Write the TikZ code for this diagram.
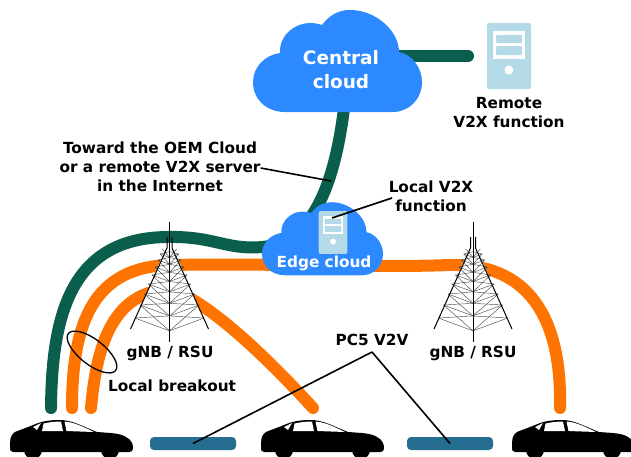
\documentclass[tikz,border=0pt]{standalone}
\usepackage{fontspec}
\setmainfont{DejaVu Sans}
\usetikzlibrary{positioning,shapes.geometric}
\definecolor{linkgreen}{HTML}{0A5F4C}
\definecolor{linkorange}{HTML}{FF7300}
\definecolor{cloudblue}{HTML}{2D89FF}
\definecolor{serverblue}{HTML}{B3DAE6}
\definecolor{barblue}{HTML}{266E91}
\tikzset{
	label/.style={font=\bfseries\fontsize{15.3}{19}\selectfont,align=center,inner sep=0pt},
	cloudlabel/.style={label,text=white},
	greenlink/.style={draw=linkgreen,line width=12pt,line cap=round},
	orangelink/.style={draw=linkorange,line width=12pt,line cap=round},
	leader/.style={draw=black,line width=1.6pt},
	pc5bar/.style={fill=barblue,rounded corners=4pt,minimum width=86pt,minimum height=13pt,inner sep=0pt},
	cloudshape/.pic={
		\fill[cloudblue] (-56,59) .. controls (-75,59) and (-88,46) .. (-88,29)
			.. controls (-88,14) and (-76,2) .. (-61,0)
			.. controls (-62,-18) and (-46,-30) .. (-31,-30)
			.. controls (-26,-30) and (-22,-29) .. (-19,-28)
			.. controls (-10,-40) and (0,-43) .. (9,-43)
			.. controls (35,-43) and (58,-22) .. (58,-1)
			.. controls (70,1) and (81,14) .. (81,29)
			.. controls (81,46) and (68,59) .. (52,59) -- cycle;
	},
	serverbox/.pic={
		\fill[serverblue,rounded corners=2pt] (-22,-33) rectangle (22,33);
		\fill[white] (-16,-25) rectangle (16,3);
		\fill[serverblue,rounded corners=1pt] (-13,-21) rectangle (13,-13);
		\fill[serverblue,rounded corners=1pt] (-13,-10) rectangle (13,-1);
		\fill[white] (0,14) circle (4.5);
	},
	carshape/.pic={
		\fill[black] (3,32) .. controls (0,32) and (0,30) .. (0,27)
			.. controls (0,20) and (0,15) .. (5,12)
			.. controls (12,9) and (16,8) .. (23,5)
			.. controls (32,1) and (40,0) .. (50,0)
			.. controls (62,0) and (72,6) .. (87,12)
			.. controls (100,13) and (110,13) .. (116,17)
			.. controls (122,20) and (123,25) .. (123,28)
			.. controls (123,31) and (122,32) .. (119,32) -- cycle;
		\fill[black] (23,30) circle (9);
		\fill[black] (100,30) circle (9);
		\fill[white] (23,7) -- (31,3) -- (27,10) -- cycle;
		\fill[white] (32,11) -- (33.5,3.5) .. controls (40,2) and (46,1.5) .. (51,1.5) -- (53,11) -- cycle;
		\fill[white] (54.5,1.5) .. controls (62,2) and (70,5) .. (84,12) -- (56.5,11) -- cycle;
	},
	towermast/.pic={
		\fill[white] (-4,26) -- (4,26) -- (34,98) -- (0,110) -- (-34,98) -- cycle;
		\foreach \ya/\yb in {27/32,32/38,38/45,45/53,53/62,62/72,72/83,83/96} {
				\pgfmathsetmacro{\wa}{2.5+0.397*(\ya-15)}
				\pgfmathsetmacro{\wb}{2.5+0.397*(\yb-15)}
				\pgfmathsetmacro{\da}{\ya+0.37*\wa}
				\pgfmathsetmacro{\db}{\yb+0.37*\wb}
				\draw[line width=0.45pt,black!70] (-\wb,\yb) -- (0,\db) -- (\wb,\yb);
				\draw[line width=0.45pt,black!70] (-\wa,\ya) -- (0,\db) -- (\wa,\ya);
				\draw[line width=0.45pt,black!70] (-\wb,\yb) -- (0,\da) -- (\wb,\yb);
			}
		\draw[line width=1pt] (-2.5,15) -- (-2.5,26) -- (-39,107);
		\draw[line width=1pt] (2.5,15) -- (2.5,26) -- (39,107);
		\draw[line width=1pt] (0,0) -- (0,120);
	},
}
\begin{document}
\begin{tikzpicture}[x=1pt,y=-1pt]
	\useasboundingbox (0,0) rectangle (631,456);
	\clip (0,0) rectangle (631,456);

	\coordinate (car1green) at (51,408);
	\coordinate (car1orange) at (72,408);
	\coordinate (car1local) at (91,408);
	\coordinate (car2local) at (313,408);
	\coordinate (car3orange) at (560,408);
	\coordinate (remoteend) at (468,56);
	\coordinate (centralexit) at (345,100);
	\coordinate (centralright) at (390,56);

	% links
	\draw[orangelink] (car1orange) .. controls (72,320) and (95,267) .. (170,265)
		.. controls (270,263) and (370,268) .. (450,265)
		.. controls (530,263) and (562,320) .. (car3orange);
	\draw[orangelink] (car1local) .. controls (97,340) and (115,292) .. (170,289)
		.. controls (205,300) and (260,350) .. (car2local);
	\draw[greenlink] (car1green) .. controls (52,320) and (68,238) .. (167,237)
		.. controls (215,236) and (225,250) .. (262,247)
		.. controls (310,243) and (335,190) .. (centralexit);
	\draw[greenlink] (centralright) -- (remoteend);

	% towers
	\pic at (169.5,222) {towermast};
	\pic at (473,222) {towermast};

	% clouds and servers
	\pic at (341,53) {cloudshape};
	\pic[scale=0.716] at (325,233) {cloudshape};
	\pic at (509,56) {serverbox};
	\pic[scale=0.65] at (333,232.5) {serverbox};

	% cars and bars
	\pic at (10,420) {carshape};
	\pic at (261,420) {carshape};
	\pic at (512,420) {carshape};
	\node[pc5bar] (bar1) at (193,443.5) {};
	\node[pc5bar] (bar2) at (450,443.5) {};

	% labels
	\node[cloudlabel,font=\bfseries\fontsize{18.5}{24}\selectfont] (central) at (341,70) {Central\\cloud};
	\node[cloudlabel] (edge) at (324,263) {Edge cloud};
	\node[label] (remote) at (509,113) {Remote\\V2X function};
	\node[label] (toward) at (160,167) {Toward the OEM Cloud\\or a remote V2X server\\in the Internet};
	\node[label] (local) at (431,196) {Local V2X\\function};
	\node[label] (gnb1) at (170,353) {gNB / RSU};
	\node[label] (gnb2) at (473,353) {gNB / RSU};
	\node[label] (breakout) at (172,386) {Local breakout};
	\node[label] (pc5) at (372,340) {PC5 V2V};

	% leaders
	\coordinate (greenpoint) at (331,181);
	\coordinate (edgeserver) at (332,218);
	\coordinate (localend) at (392,198);
	\draw[leader] (toward.east |- 0,168) -- (greenpoint);
	\draw[leader] (localend) -- (edgeserver);
	\draw[leader] (372,352) -- (bar1.center);
	\draw[leader] (372,352) -- (bar2.center);
	\node[draw,ellipse,line width=1.3pt,rotate=-38,minimum width=60pt,minimum height=25pt,inner sep=0pt] (loop) at (92,352) {};
\end{tikzpicture}
\end{document}
